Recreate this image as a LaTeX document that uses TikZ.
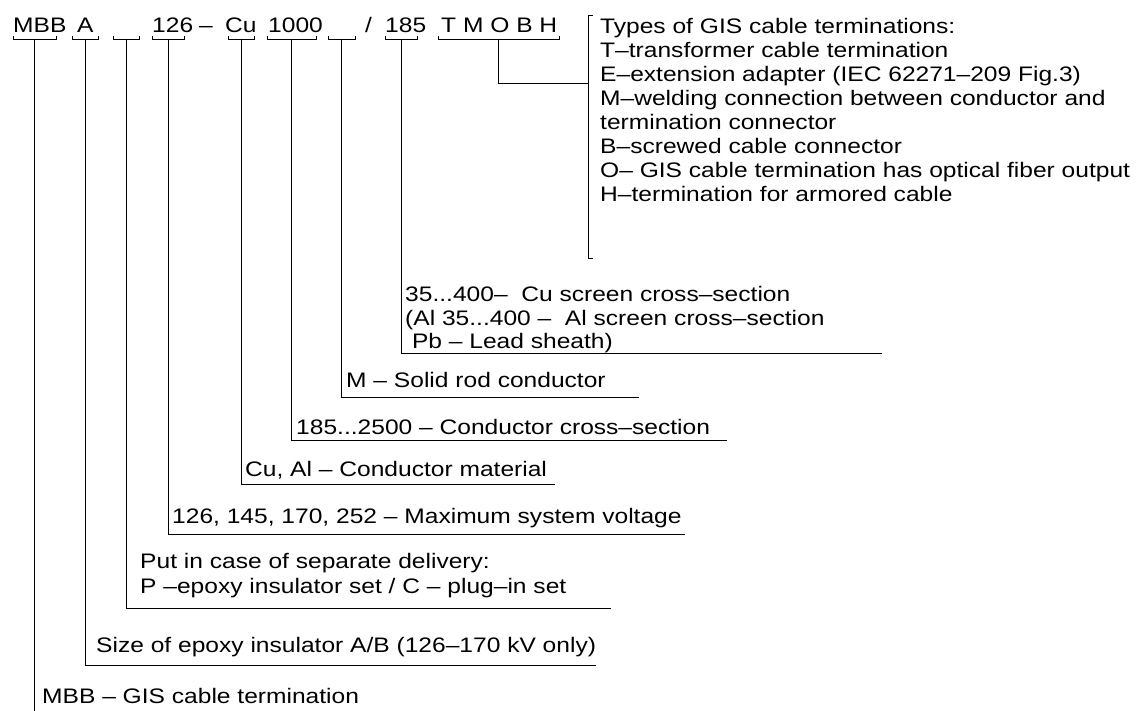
\documentclass[tikz,border=0pt]{standalone}
\usepackage{fontspec}
\setmainfont{Liberation Sans}[FakeStretch=1.17]
\begin{document}
\begin{tikzpicture}[x=1pt,y=-1pt,
  lbl/.style={anchor=base west,inner sep=0pt,font=\fontsize{21}{24}\selectfont},
  ln/.style={line width=1pt,black}]
\useasboundingbox (0,0) rectangle (1139,711);
% top code row
\node[lbl] (tMBB) at (13,33) {MBB};
\node[lbl] (tA) at (77,33) {A};
\node[lbl] (t126) at (152,33) {126};
\node[lbl] (tdash) at (199,33) {–};
\node[lbl] (tCu) at (225,33) {Cu};
\node[lbl] (t1000) at (268,33) {1000};
\node[lbl] (tslash) at (365,33) {/};
\node[lbl] (t185) at (385,33) {185};
\node[lbl] (tT) at (441,33) {T M O B H};
% brackets under code positions
\draw[ln] (13,36) -- (13,40) -- (56,40) -- (56,36);
\draw[ln] (72,36) -- (72,40) -- (98,40) -- (98,36);
\draw[ln] (113,36) -- (113,40) -- (139,40) -- (139,36);
\draw[ln] (152,36) -- (152,40) -- (184,40) -- (184,36);
\draw[ln] (228,36) -- (228,40) -- (254,40) -- (254,36);
\draw[ln] (267,36) -- (267,40) -- (316,40) -- (316,36);
\draw[ln] (328,36) -- (328,40) -- (355,40) -- (355,36);
\draw[ln] (385,36) -- (385,40) -- (417,40) -- (417,36);
\draw[ln] (438,36) -- (438,40) -- (559,40) -- (559,36);
\coordinate (sMBB) at (34.5,40);
\coordinate (sA) at (85,40);
\coordinate (sP) at (126,40);
\coordinate (s126) at (168,40);
\coordinate (sCu) at (241,40);
\coordinate (s1000) at (291.5,40);
\coordinate (sM) at (341.5,40);
\coordinate (s185) at (401,40);
\coordinate (sT) at (498.5,40);
% types block
\draw[ln] (593,16) -- (588,16) -- (588,258) -- (593,258);
\coordinate (bT) at (588,84);
\node[lbl] (d1) at (600,34) {Types of GIS cable terminations:};
\node[lbl] (d2) at (600,58) {T–transformer cable termination};
\node[lbl] (d3) at (600,82) {E–extension adapter (IEC 62271–209 Fig.3)};
\node[lbl] (d4) at (600,106) {M–welding connection between conductor and};
\node[lbl] (d5) at (600,130) {termination connector};
\node[lbl] (d6) at (600,154) {B–screwed cable connector};
\node[lbl] (d7) at (600,178) {O– GIS cable termination has optical fiber output};
\node[lbl] (d8) at (600,202) {H–termination for armored cable};
\draw[ln] (sT) |- (bT);
% screen
\node[lbl] (e1) at (405,301) {35...400–\ \ Cu screen cross–section};
\node[lbl] (e2) at (405,325) {(Al 35...400 –\ \ Al screen cross–section};
\node[lbl] (e3) at (405,348) {\ Pb – Lead sheath)};
\coordinate (u185) at (882,353);
\draw[ln] (s185) |- (u185);
% solid rod
\node[lbl] (f1) at (346,387) {M – Solid rod conductor};
\coordinate (uM) at (639,397);
\draw[ln] (sM) |- (uM);
% conductor cross-section
\node[lbl] (g1) at (296,434) {185...2500 – Conductor cross–section};
\coordinate (u1000) at (727,440);
\draw[ln] (s1000) |- (u1000);
% material
\node[lbl] (h1) at (245,476) {Cu, Al – Conductor material};
\coordinate (uCu) at (555,484);
\draw[ln] (sCu) |- (uCu);
% voltage
\node[lbl] (i1) at (172,523) {126, 145, 170, 252 – Maximum system voltage};
\coordinate (u126) at (685,534);
\draw[ln] (s126) |- (u126);
% separate delivery
\node[lbl] (j1) at (140,568) {Put in case of separate delivery:};
\node[lbl] (j2) at (140,593) {P –epoxy insulator set / C – plug–in set};
\coordinate (uP) at (611,608);
\draw[ln] (sP) |- (uP);
% size
\node[lbl] (k1) at (96,652) {Size of epoxy insulator A/B (126–170 kV only)};
\coordinate (uA) at (596,665);
\draw[ln] (sA) |- (uA);
% MBB
\node[lbl] (m1) at (42,703) {MBB – GIS cable termination};
\coordinate (uMBB) at (34.5,711);
\draw[ln] (sMBB) -- (uMBB);
\end{tikzpicture}
\end{document}
